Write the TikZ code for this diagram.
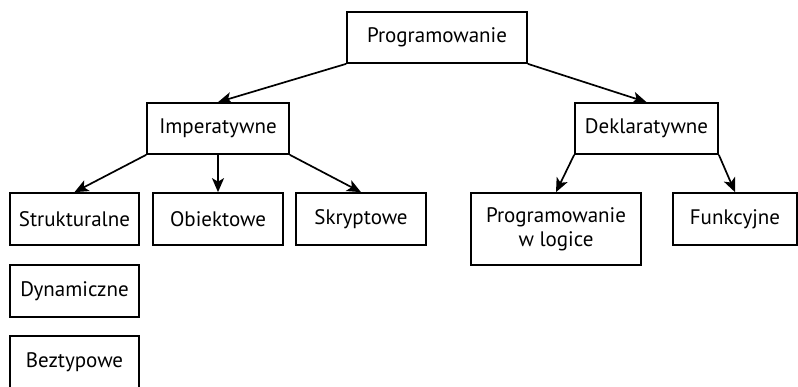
\documentclass[tikz,border=0pt]{standalone}
\usepackage{fontspec}
\setmainfont{PT Sans}
\usetikzlibrary{arrows.meta}
\begin{document}
\begin{tikzpicture}[x=1pt,y=-1pt,
  box/.style={draw, line width=1.7pt, inner sep=0pt, align=center, font=\fontsize{21}{24}\selectfont},
  arr/.style={line width=1.7pt, -{Stealth[length=14pt,width=12pt,inset=3.5pt]}}]
\useasboundingbox (0,0) rectangle (798,386);
\node[box, minimum width=180pt, minimum height=51pt] (prog) at (437,37.5) {Programowanie};
\node[box, minimum width=142pt, minimum height=51pt] (imp) at (218,128.5) {Imperatywne};
\node[box, minimum width=143pt, minimum height=51pt] (dek) at (646.5,128.5) {Deklaratywne};
\node[box, minimum width=129pt, minimum height=52pt] (str) at (74.5,219) {Strukturalne};
\node[box, minimum width=130pt, minimum height=52pt] (obi) at (218,219) {Obiektowe};
\node[box, minimum width=130pt, minimum height=52pt] (skr) at (361,219) {Skryptowe};
\node[box, minimum width=170pt, minimum height=72pt] (log) at (556,229) {Programowanie\\w logice};
\node[box, minimum width=124pt, minimum height=52pt] (fun) at (735,219) {Funkcyjne};
\node[box, minimum width=129pt, minimum height=52pt] (dyn) at (74.5,291) {Dynamiczne};
\node[box, minimum width=129pt, minimum height=52pt] (bez) at (74.5,362) {Beztypowe};
\draw[arr] (prog.south west) -- (imp.north);
\draw[arr] (prog.south east) -- (dek.north);
\draw[arr] (imp.south west) -- (str.north);
\draw[arr] (imp.south) -- (obi.north);
\draw[arr] (imp.south east) -- (skr.north);
\draw[arr] (dek.south west) -- (log.north);
\draw[arr] (dek.south east) -- (fun.north);
\end{tikzpicture}
\end{document}
